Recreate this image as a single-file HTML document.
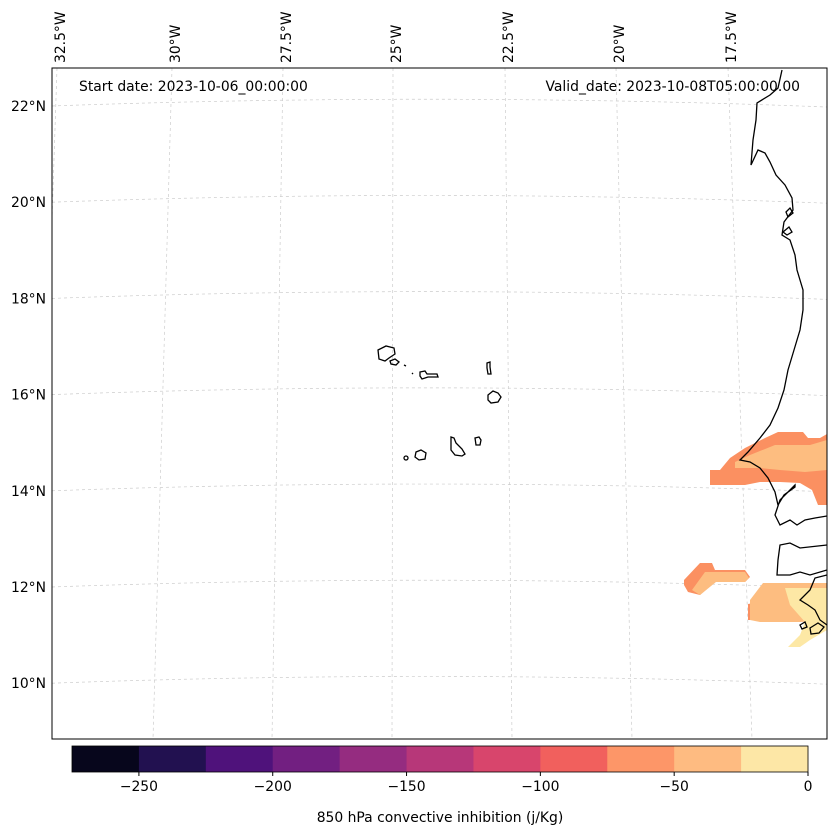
<!DOCTYPE html>
<html><head><meta charset="utf-8"><style>
body{margin:0;background:#fff;font-family:"DejaVu Sans",sans-serif}
</style></head><body>
<svg width="837" height="836" viewBox="0 0 837 836" xmlns="http://www.w3.org/2000/svg" font-family="DejaVu Sans, sans-serif">
<defs><clipPath id="mapclip"><rect x="52" y="68" width="775" height="671"/></clipPath></defs>
<g clip-path="url(#mapclip)">
<g id="grid" stroke="#ccc" stroke-width="0.7" stroke-dasharray="3,3" fill="none"></g>
<g stroke="none">
<polygon fill="#fb9061" points="710,470 720,470 730,458 745,448 765,438 778,432 803,432 808,438 820,438 827,434 827,505 818,505 812,490 800,483 780,482 760,482 745,485 710,485"/>
<polygon fill="#fdbd80" points="735,462 750,455 775,445 810,445 827,440 827,470 805,472 780,470 760,468 735,468"/>
<polygon fill="#fb9061" points="684,580 700,563 712,563 715,570 745,570 750,577 745,582 715,582 700,595 688,592 684,585"/>
<polygon fill="#fdbd80" points="692,590 705,572 745,572 749,578 745,582 716,582 700,595"/>
<polygon fill="#fb9061" points="748,604 760,602 760,620 748,620"/>
<polygon fill="#fdbd80" points="750,600 763,583 827,583 827,620 800,622 760,622 750,620"/>
<polygon fill="#fde8a5" points="785,588 827,588 827,630 810,640 800,647 788,647 800,635 805,622 790,605"/>
</g>
<g fill="none" stroke="#000" stroke-width="1.3">
<polyline points="782,70 778,88 770,95 757,103 756,120 753,140 751,165 758,150 765,153 770,162 776,175 785,185 792,198 793,210 784,222 782,235 790,240 795,255 797,270 803,290 803,310 800,330 794,350 788,370 784,390 778,408 770,425 760,438 748,452 740,460 750,462 760,468 768,478 775,492 778,505 784,495 795,487 795,485 780,500 775,515 780,525 790,520 797,525 805,520 815,518 827,516"/>
<polyline points="827,545 800,548 790,543 780,545 778,560 777,575 790,575 800,572 810,575 827,570"/>
<polyline points="827,575 815,578 810,590 800,600 808,605 815,610 820,620 827,625"/>
<path d="M783,232 l6,-5 l3,5 l-5,3z M786,212 l4,-4 l3,5 l-5,4z M810,628 l8,-5 l6,4 l-5,6 l-8,1z M800,625 l5,-3 l2,5 l-5,2z"/>
</g>
<g fill="none" stroke="#000" stroke-width="1.3">
<path d="M378,350 l8,-4 l8,2 l1,6 l-6,4 l-4,3 l-6,-2 z"/>
<path d="M390,361 l5,-2 l4,3 l-3,3 l-5,-1 z"/>
<path d="M404,365 l2,1 M412,373 l1,1"/>
<path d="M420,372 l5,-1 l2,3 l10,0 l1,3 l-10,0 l-6,2 l-2,-3 z"/>
<path d="M487,363 l3,-1 l0,5 l1,7 l-3,0 l-1,-6 z"/>
<path d="M488,395 l5,-4 l5,2 l3,4 l-3,5 l-7,1 l-3,-3 z"/>
<path d="M451,437 l3,1 l2,5 l6,6 l3,5 l-3,2 l-7,-1 l-4,-5 z"/>
<path d="M475,438 l4,-1 l2,3 l-1,5 l-4,0 z"/>
<path d="M416,452 l5,-2 l5,3 l-1,6 l-6,1 l-4,-3 z"/>
<ellipse cx="406" cy="458" rx="2" ry="2"/>
</g>
</g>
<rect x="52" y="68" width="775" height="671" fill="none" stroke="#000" stroke-width="1"/>
<g id="latlabels" font-size="13.9" fill="#000" text-anchor="end"></g>
<g id="lonlabels" font-size="13.9" fill="#000"></g>
<text x="79" y="91" font-size="13.9">Start date: 2023-10-06_00:00:00</text>
<text x="800" y="91" font-size="13.9" text-anchor="end">Valid_date: 2023-10-08T05:00:00.00</text>
<g id="cbar"></g>
<text x="440" y="822" font-size="13.9" text-anchor="middle">850 hPa convective inhibition (j/Kg)</text>
</svg>
<script>
const latValues=[22,20,18,16,14,12,10];
const lonValues=[32.5,30,27.5,25,22.5,20,17.5];
const lonTop=[57,172,283,393,505,616,728];
const lonBot=[35,153,272,392,512,632,752];
const cbarBounds=[-275,-250,-225,-200,-175,-150,-125,-100,-75,-50,-25,0];
const cbarColors=["#07061c","#221150","#4f127b","#721f81","#952c80","#b73779","#d8456c","#f1605d","#fd9668","#febb81","#fde7a6"];
const cbarTicks=[-250,-200,-150,-100,-50,0];
const NS="http://www.w3.org/2000/svg";
function latY(v){return 106+(22-v)*48.1;}
const grid=document.getElementById('grid');
const latG=document.getElementById('latlabels');
latValues.forEach(v=>{
 const y=latY(v);
 const p=document.createElementNS(NS,'path');
 p.setAttribute('d',`M52,${y} Q440,${y-14} 827,${y+1}`);
 
 
 grid.appendChild(p);
 const t=document.createElementNS(NS,'text');
 t.setAttribute('x',46);t.setAttribute('y',y+5);
 t.textContent=v+'°N';
 
 
 latG.appendChild(t);
});
const lonG=document.getElementById('lonlabels');
lonValues.forEach((v,i)=>{
 const l=document.createElementNS(NS,'line');
 l.setAttribute('x1',lonTop[i]);l.setAttribute('y1',68);
 l.setAttribute('x2',lonBot[i]);l.setAttribute('y2',739);
 
 
 grid.appendChild(l);
 const x=lonTop[i]+8;
 const t=document.createElementNS(NS,'text');
 t.setAttribute('transform',`translate(${x},63) rotate(-90)`);
 t.textContent=v+'°W';
 
 
 lonG.appendChild(t);
});
const cb=document.getElementById('cbar');
const cx0=72,cx1=808,cy=746,ch=26;
function cbX(v){return cx0+(v-cbarBounds[0])/(cbarBounds[cbarBounds.length-1]-cbarBounds[0])*(cx1-cx0);}
cbarColors.forEach((c,i)=>{
 const r=document.createElementNS(NS,'rect');
 const x0=cbX(cbarBounds[i]),x1=cbX(cbarBounds[i+1]);
 r.setAttribute('x',x0);r.setAttribute('y',cy);r.setAttribute('width',x1-x0+0.5);r.setAttribute('height',ch);
 r.setAttribute('fill',c);
 
 
 cb.appendChild(r);
});
const fr=document.createElementNS(NS,'rect');
fr.setAttribute('x',cx0);fr.setAttribute('y',cy);fr.setAttribute('width',cx1-cx0);fr.setAttribute('height',ch);
fr.setAttribute('fill','none');fr.setAttribute('stroke','#000');fr.setAttribute('stroke-width','0.8');


cb.appendChild(fr);
cbarTicks.forEach(v=>{
 const x=cbX(v);
 const l=document.createElementNS(NS,'line');
 l.setAttribute('x1',x);l.setAttribute('x2',x);l.setAttribute('y1',cy+ch);l.setAttribute('y2',cy+ch+4);
 l.setAttribute('stroke','#000');
 
 
 cb.appendChild(l);
 const t=document.createElementNS(NS,'text');
 t.setAttribute('x',x);t.setAttribute('y',cy+ch+19);t.setAttribute('font-size','13.9');t.setAttribute('text-anchor','middle');
 t.textContent=(v<0?'\u2212'+(-v):v);
 
 
 cb.appendChild(t);
});
</script>
</body></html>
